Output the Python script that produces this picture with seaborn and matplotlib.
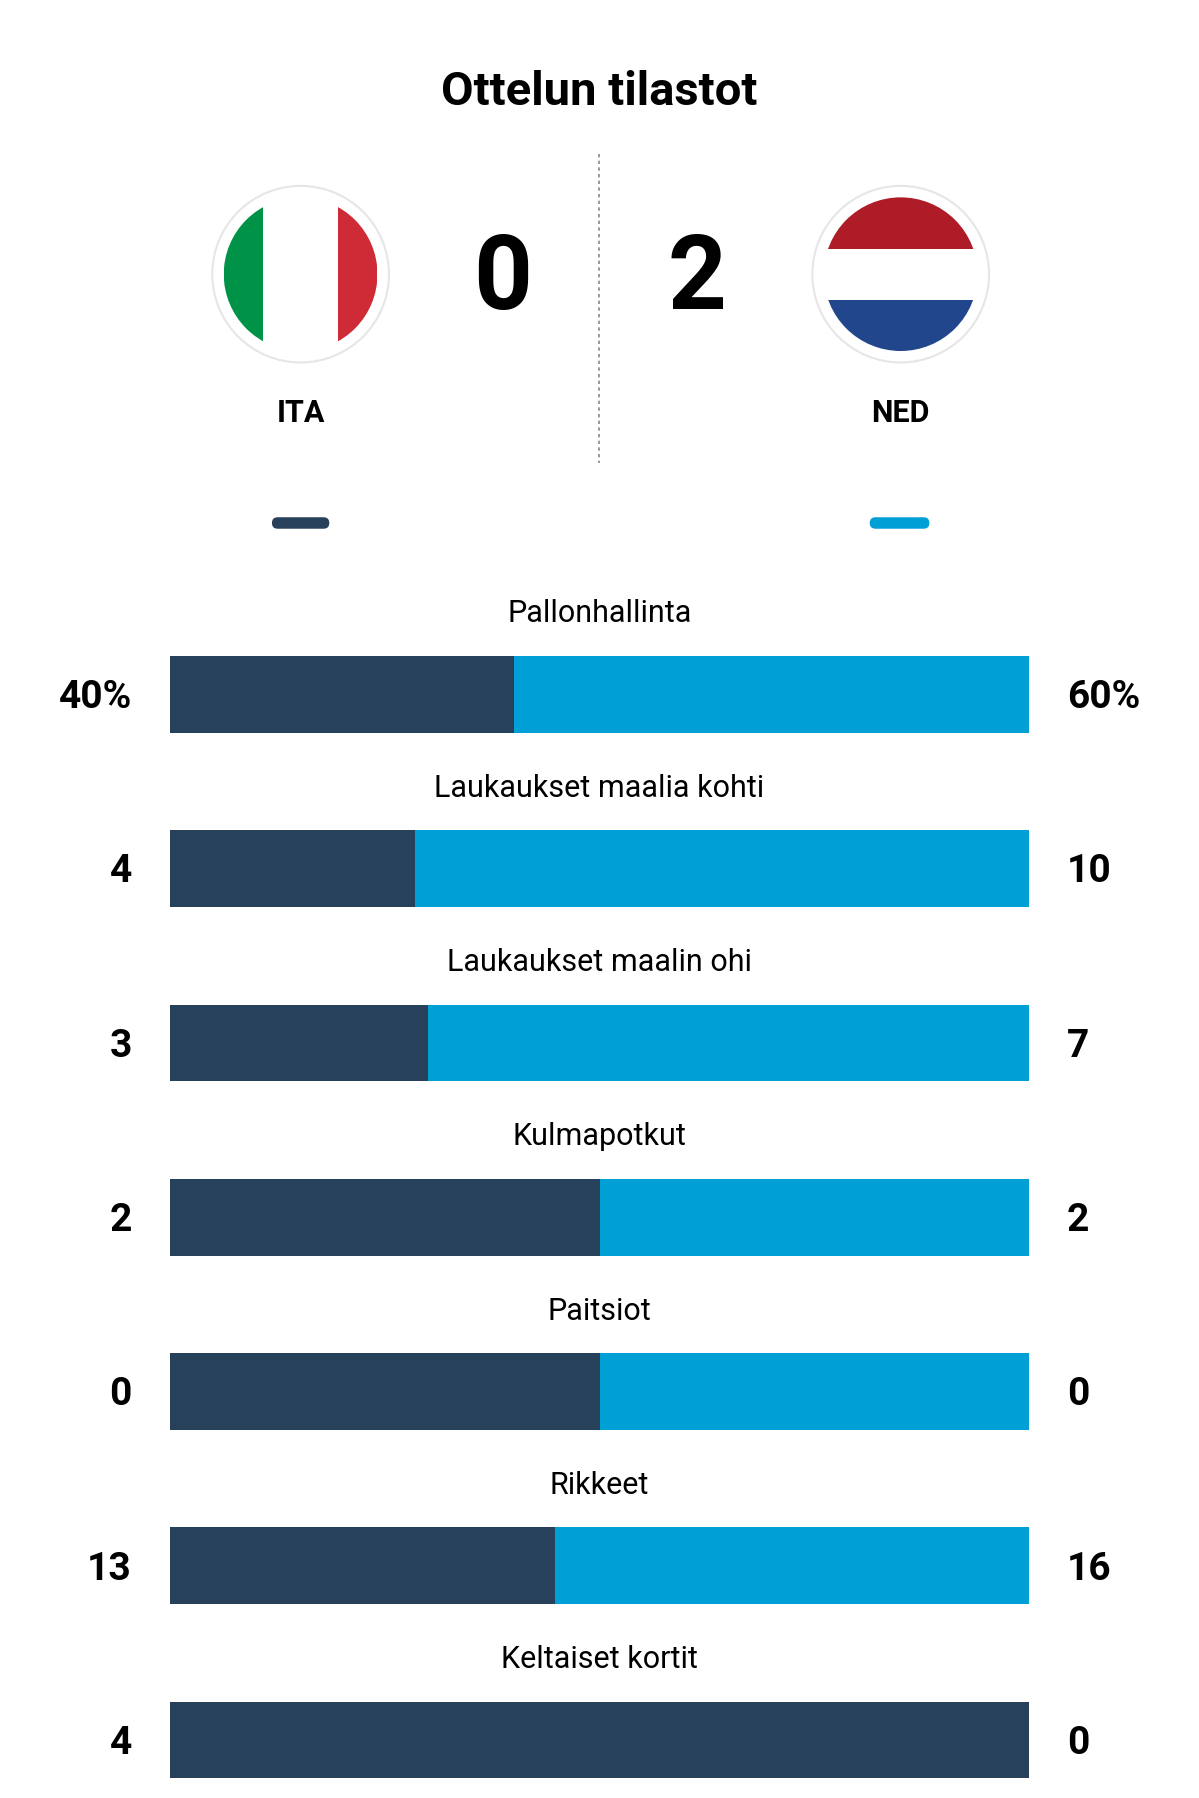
import numpy as np
import pandas as pd
import matplotlib.pyplot as plt
import seaborn as sns
from matplotlib.patches import Circle, Rectangle, FancyBboxPatch

stats_fi = ["Pallonhallinta", "Laukaukset maalia kohti", "Laukaukset maalin ohi",
            "Kulmapotkut", "Paitsiot", "Rikkeet", "Keltaiset kortit"]
ita = [40, 4, 3, 2, 0, 13, 4]
ned = [60, 10, 7, 2, 0, 16, 0]
teams = ["ITA", "NED"]
score = [0, 2]

DARK = "#264159"
BLUE = "#00A0D6"
W, H = 1045, 1569  # reference pixel frame

fig = plt.figure(figsize=(11.99, 17.99), dpi=100)
ov = fig.add_axes([0, 0, 1, 1])
ov.set_xlim(0, W)
ov.set_ylim(H, 0)
ov.axis("off")

ov.text(W / 2, 80, "Ottelun tilastot", ha="center", va="center",
        fontsize=34, fontweight="bold", family="Roboto")
ov.plot([522, 522], [135, 405], color="#888888", ls=(0, (2, 2)), lw=1.2)

# flags
def flag(cx, cy, kind):
    ov.add_patch(Circle((cx, cy), 77, fc="white", ec="#e6e6e6", lw=1.5, zorder=2))
    clip = Circle((cx, cy), 67, transform=ov.transData)
    r = 67
    if kind == "ITA":
        cols = ["#009246", "#ffffff", "#CE2B37"]
        widths = [34, 66, 34]
        x0 = cx - r
        for c, w in zip(cols, widths):
            p = Rectangle((x0, cy - r), w, 2 * r, fc=c, zorder=3)
            ov.add_patch(p); p.set_clip_path(clip)
            x0 += w
    else:
        cols = ["#AE1C28", "#ffffff", "#21468B"]
        for i, c in enumerate(cols):
            p = Rectangle((cx - r, cy - r + i * 2 * r / 3), 2 * r, 2 * r / 3, fc=c, zorder=3)
            ov.add_patch(p); p.set_clip_path(clip)

flag(262, 240, "ITA")
flag(785, 240, "NED")
ov.text(438, 245, str(score[0]), ha="center", va="center", fontsize=74, fontweight="bold", family="Roboto")
ov.text(607, 245, str(score[1]), ha="center", va="center", fontsize=74, fontweight="bold", family="Roboto")
ov.text(262, 360, teams[0], ha="center", va="center", fontsize=22, fontweight="bold", family="Roboto")
ov.text(785, 360, teams[1], ha="center", va="center", fontsize=22, fontweight="bold", family="Roboto")
ov.add_patch(FancyBboxPatch((237, 452), 50, 10, boxstyle="round,pad=0,rounding_size=5", fc=DARK, ec="none"))
ov.add_patch(FancyBboxPatch((758, 452), 52, 10, boxstyle="round,pad=0,rounding_size=5", fc=BLUE, ec="none"))

# bars
centers = [606.5 + 152 * i for i in range(len(stats_fi))]
share = [a / (a + b) if (a + b) > 0 else 0.5 for a, b in zip(ita, ned)]
df = pd.DataFrame({"y": centers, "total": 1.0, "share": share})

bx = fig.add_axes([148 / W, 0, 749 / W, 1])
sns.barplot(data=df, x="total", y="y", orient="h", native_scale=True,
            color=BLUE, saturation=1, width=0.44, ax=bx)
sns.barplot(data=df, x="share", y="y", orient="h", native_scale=True,
            color=DARK, saturation=1, width=0.44, ax=bx)
bx.set_xlim(0, 1)
bx.set_ylim(H, 0)
bx.axis("off")

for i, (name, a, b) in enumerate(zip(stats_fi, ita, ned)):
    cy = centers[i]
    la, lb = (f"{a}%", f"{b}%") if i == 0 else (str(a), str(b))
    ov.text(W / 2, cy - 71, name, ha="center", va="center", fontsize=22, family="Roboto")
    ov.text(115, cy + 2, la, ha="right", va="center", fontsize=28, fontweight="bold", family="Roboto")
    ov.text(930, cy + 2, lb, ha="left", va="center", fontsize=28, fontweight="bold", family="Roboto")

fig.savefig("out.png", dpi=100)
